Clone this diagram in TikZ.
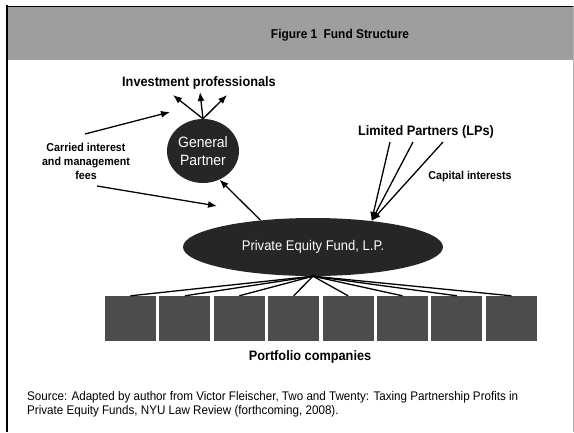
\documentclass[tikz,border=0pt]{standalone}
\usepackage{fontspec}
\setmainfont{Liberation Sans}[FakeStretch=0.93]
\usetikzlibrary{shapes.geometric,arrows.meta}

\tikzset{
  blob/.style={ellipse, fill=black!85, text=white, inner sep=0pt},
  firm/.style={fill=black!70, minimum width=51pt, minimum height=45pt, inner sep=0pt},
  lbl/.style={font=\bfseries\fontsize{13.7}{16}\selectfont, inner sep=0pt},
  smalllbl/.style={font=\bfseries\fontsize{11.5}{14}\selectfont, align=center, inner sep=0pt},
  flow/.style={-{Latex[length=9pt,width=7pt]}, line width=1.3pt}
}

\begin{document}
\begin{tikzpicture}[x=1pt,y=-1pt]
  \useasboundingbox (0,0) rectangle (574,432);
  % frame and title banner
  \fill[black!38] (7,6) rectangle (574,60);
  \draw[line width=0.6pt] (7,6) -- (574,6);
  \draw[line width=2.5pt] (7,5) -- (7,432);
  \draw[black!30, line width=0.5pt] (573,6) -- (573,432);
  \node[lbl, font=\bfseries\fontsize{12.8}{15}\selectfont] (title) at (340,35) {Figure 1\enspace Fund Structure};

  % the partners and the fund
  \node[blob, minimum width=72pt, minimum height=64pt, align=center, font=\fontsize{15}{18}\selectfont] (gp) at (203,151) {General\\Partner};
  \node[blob, minimum width=260pt, minimum height=58pt, font=\fontsize{14}{16}\selectfont] (pef) at (313,247) {Private Equity Fund, L.P.};
  \node[lbl] (inv) at (199,83) {Investment professionals};
  \node[lbl] (lps) at (426,132) {Limited Partners (LPs)};
  \node[smalllbl] (cap) at (470,177) {Capital interests};
  \node[smalllbl] (carry) at (86,161) {Carried interest\\and management\\fees};

  \coordinate (inv1) at (173,95);
  \coordinate (inv2) at (200,92);
  \coordinate (inv3) at (227,95);
  \foreach \c in {inv1,inv2,inv3}
    \draw[flow] (gp.north) -- (\c);
  \draw[flow] (pef.153) -- (gp.-60);

  \coordinate (lp1) at (390,142);
  \coordinate (lp2) at (413,142);
  \coordinate (lp3) at (443,142);
  \foreach \c in {lp1,lp2,lp3}
    \draw[flow] (\c) -- (pef.24);

  \coordinate (fee1) at (85,134);
  \coordinate (fee1e) at (170,112);
  \coordinate (fee2) at (97,186);
  \coordinate (fee2e) at (217,206);
  \draw[flow] (fee1) -- (fee1e);
  \draw[flow] (fee2) -- (fee2e);

  % portfolio companies
  \foreach \i in {1,...,8} {
    \node[firm] (co\i) at ({130.5+54.4*(\i-1)},318.5) {};
    \draw[line width=1.3pt] (pef.south) -- (co\i.north);
  }
  \node[lbl] (port) at (310,357) {Portfolio companies};

  \node[anchor=north west, align=left, inner sep=0pt, font=\fontsize{12.5}{14}\selectfont] (src) at (27,391)
    {Source: Adapted by author from Victor Fleischer, Two and Twenty: Taxing Partnership Profits in\\
     Private Equity Funds, NYU Law Review (forthcoming, 2008).};
\end{tikzpicture}
\end{document}
